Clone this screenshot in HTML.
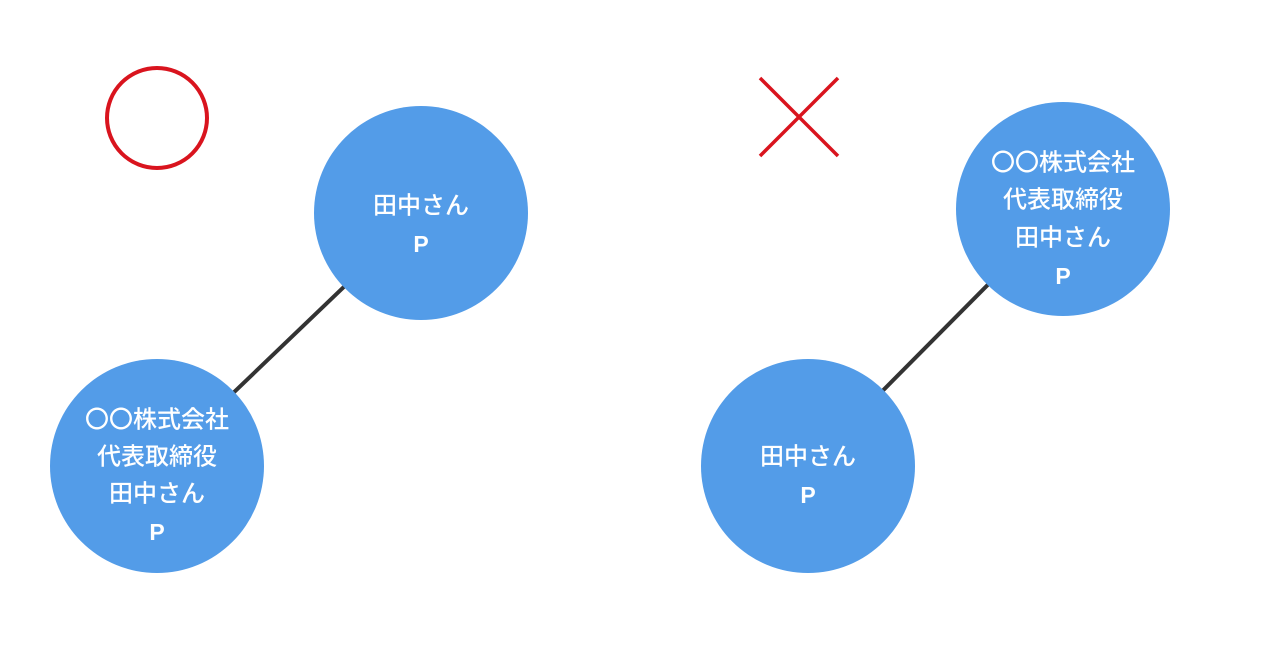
<!DOCTYPE html>
<html><head><meta charset="utf-8"><style>
body{margin:0;background:#fff;}
svg text{font-family:"Liberation Sans","Noto Sans CJK JP",sans-serif;font-size:24px;font-weight:500;fill:#fff;text-anchor:middle;dominant-baseline:central;}
svg text.p{font-weight:bold;font-size:23px;}
</style></head><body>
<svg width="1280" height="640" viewBox="0 0 1280 640" xmlns="http://www.w3.org/2000/svg">
<rect width="1280" height="640" fill="#fff"/>
<circle cx="157" cy="118" r="50" fill="none" stroke="#d9141e" stroke-width="4"/>
<line x1="760" y1="78" x2="838" y2="156" stroke="#d9141e" stroke-width="3.5"/>
<line x1="838" y1="78" x2="760" y2="156" stroke="#d9141e" stroke-width="3.5"/>
<line x1="421" y1="213" x2="157" y2="466" stroke="#333" stroke-width="4"/>
<line x1="1063" y1="209" x2="808" y2="466" stroke="#333" stroke-width="4"/>
<circle cx="421" cy="213" r="107" fill="#539ce8"/>
<circle cx="157" cy="466" r="107" fill="#539ce8"/>
<circle cx="1063" cy="209" r="107" fill="#539ce8"/>
<circle cx="808" cy="466" r="107" fill="#539ce8"/>
<text x="421" y="206">田中さん</text><text class="p" x="421" y="244">P</text>
<text x="157" y="420">〇〇株式会社</text><text x="157" y="457">代表取締役</text><text x="157" y="494">田中さん</text><text class="p" x="157" y="532">P</text>
<text x="1063" y="163">〇〇株式会社</text><text x="1063" y="200">代表取締役</text><text x="1063" y="238">田中さん</text><text class="p" x="1063" y="276">P</text>
<text x="808" y="457">田中さん</text><text class="p" x="808" y="495">P</text>
</svg>
</body></html>
